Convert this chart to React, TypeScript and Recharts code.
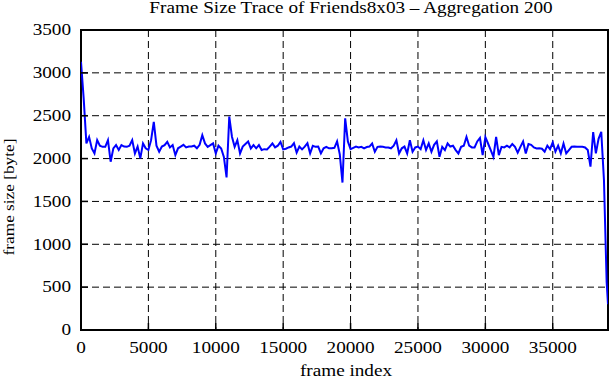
import React from "react";
import {
  LineChart,
  Line,
  XAxis,
  YAxis,
  CartesianGrid,
  ReferenceArea,
} from "recharts";

const frames: number[] = [
  0, 200, 400, 600, 800, 1000, 1200, 1400, 1600, 1800,
  2000, 2200, 2400, 2600, 2800, 3000, 3200, 3400, 3600, 3800,
  4000, 4200, 4400, 4600, 4800, 5000, 5200, 5400, 5600, 5800,
  6000, 6200, 6400, 6600, 6800, 7000, 7200, 7400, 7600, 7800,
  8000, 8200, 8400, 8600, 8800, 9000, 9200, 9400, 9600, 9800,
  10000, 10200, 10400, 10600, 10800, 11000, 11200, 11400, 11600, 11800,
  12000, 12200, 12400, 12600, 12800, 13000, 13200, 13400, 13600, 13800,
  14000, 14200, 14400, 14600, 14800, 15000, 15200, 15400, 15600, 15800,
  16000, 16200, 16400, 16600, 16800, 17000, 17200, 17400, 17600, 17800,
  18000, 18200, 18400, 18600, 18800, 19000, 19200, 19400, 19600, 19800,
  20000, 20200, 20400, 20600, 20800, 21000, 21200, 21400, 21600, 21800,
  22000, 22200, 22400, 22600, 22800, 23000, 23200, 23400, 23600, 23800,
  24000, 24200, 24400, 24600, 24800, 25000, 25200, 25400, 25600, 25800,
  26000, 26200, 26400, 26600, 26800, 27000, 27200, 27400, 27600, 27800,
  28000, 28200, 28400, 28600, 28800, 29000, 29200, 29400, 29600, 29800,
  30000, 30200, 30400, 30600, 30800, 31000, 31200, 31400, 31600, 31800,
  32000, 32200, 32400, 32600, 32800, 33000, 33200, 33400, 33600, 33800,
  34000, 34200, 34400, 34600, 34800, 35000, 35200, 35400, 35600, 35800,
  36000, 36200, 36400, 36600, 36800, 37000, 37200, 37400, 37600, 37800,
  38000, 38200, 38400, 38600, 38800, 39000, 39100,
];

const frameSizes: number[] = [
  3130, 2700, 2177, 2253, 2119, 2060, 2215, 2150, 2137, 2137,
  2215, 1963, 2119, 2157, 2100, 2157, 2140, 2137, 2150, 2215,
  2060, 2140, 2002, 2177, 2120, 2100, 2215, 2428, 2150, 2080,
  2140, 2157, 2196, 2130, 2157, 2040, 2120, 2140, 2160, 2130,
  2140, 2140, 2150, 2120, 2160, 2273, 2177, 2137, 2157, 2177,
  2060, 2150, 2118, 2020, 1780, 2490, 2255, 2137, 2215, 2060,
  2140, 2170, 2200, 2118, 2157, 2120, 2157, 2100, 2110, 2107,
  2140, 2176, 2130, 2150, 2195, 2107, 2115, 2130, 2140, 2180,
  2070, 2140, 2107, 2140, 2180, 2060, 2150, 2137, 2140, 2060,
  2120, 2137, 2120, 2120, 2125, 2200, 2050, 1720, 2470, 2200,
  2110, 2125, 2140, 2130, 2137, 2120, 2135, 2140, 2176, 2080,
  2137, 2140, 2137, 2130, 2130, 2120, 2150, 2213, 2060, 2120,
  2140, 2060, 2213, 2080, 2130, 2140, 2110, 2213, 2100, 2176,
  2080, 2160, 2200, 2021, 2137, 2099, 2176, 2140, 2150, 2099,
  2060, 2137, 2150, 2253, 2150, 2130, 2130, 2200, 2240, 2040,
  2250, 2176, 2099, 2021, 2253, 2040, 2137, 2130, 2150, 2130,
  2170, 2137, 2070, 2137, 2200, 2060, 2170, 2160, 2130, 2118,
  2120, 2115, 2080, 2150, 2110, 2190, 2080, 2150, 2060, 2176,
  2060, 2099, 2137, 2140, 2137, 2137, 2137, 2130, 2099, 1905,
  2310, 2060, 2230, 2311, 1750, 560, 300,
];

const xTicks: number[] = [0, 5000, 10000, 15000, 20000, 25000, 30000, 35000];
const yTicks: number[] = [0, 500, 1000, 1500, 2000, 2500, 3000, 3500];
const xDomain: [number, number] = [0, 39100];
const yDomain: [number, number] = [0, 3500];

const titleText = "Frame Size Trace of Friends8x03 \u2013 Aggregation 200";
const xLabelText = "frame index";
const yLabelText = "frame size [byte]";

const data = frames.map((f, i) => ({ frame: f, size: frameSizes[i] }));

const FONT = "'Liberation Serif', 'Times New Roman', serif";
const TICK_LEN = 7;

const LeftTick = (props: any) => {
  const { x, y, payload } = props;
  return (
    <g>
      <line x1={x + 10} x2={x + 10 + TICK_LEN} y1={y} y2={y} stroke="#000" strokeWidth={1.5} />
      <text
        transform={`translate(${x},${y}) scale(1.2,1)`}
        textAnchor="end"
        dy="0.33em"
        fontFamily={FONT}
        fontSize={16}
        fill="#000"
      >
        {payload.value}
      </text>
    </g>
  );
};

const RightTick = (props: any) => {
  const { x, y } = props;
  return <line x1={x - TICK_LEN} x2={x} y1={y} y2={y} stroke="#000" strokeWidth={1.5} />;
};

const BottomTick = (props: any) => {
  const { x, y, payload } = props;
  return (
    <g>
      <line x1={x} x2={x} y1={y - TICK_LEN} y2={y} stroke="#000" strokeWidth={1.5} />
      <text
        transform={`translate(${x},${y + 22.5}) scale(1.2,1)`}
        textAnchor="middle"
        fontFamily={FONT}
        fontSize={16}
        fill="#000"
      >
        {payload.value}
      </text>
    </g>
  );
};

const TopTick = (props: any) => {
  const { x, y } = props;
  return <line x1={x} x2={x} y1={y} y2={y + TICK_LEN} stroke="#000" strokeWidth={1.5} />;
};

export default function App() {
  return (
    <div style={{ position: "absolute", left: 0, top: 0, width: 611, height: 380, background: "#fff" }}>
      <LineChart
        width={611}
        height={380}
        data={data}
        margin={{ top: 30, right: 3, bottom: 0, left: 0 }}
      >
        <CartesianGrid
          stroke="#000"
          strokeWidth={1}
          strokeDasharray="7 4"
          horizontalValues={yTicks}
          verticalValues={xTicks}
        />
        <XAxis
          dataKey="frame"
          type="number"
          domain={xDomain}
          ticks={xTicks}
          allowDataOverflow
          height={50}
          tickSize={0}
          tickMargin={0}
          tickLine={false}
          axisLine={false}
          tick={<BottomTick />}
          interval={0}
        />
        <XAxis
          xAxisId="top"
          orientation="top"
          dataKey="frame"
          type="number"
          domain={xDomain}
          ticks={xTicks}
          allowDataOverflow
          height={0}
          tickSize={0}
          tickMargin={0}
          tickLine={false}
          axisLine={false}
          tick={<TopTick />}
          interval={0}
        />
        <YAxis
          type="number"
          domain={yDomain}
          ticks={yTicks}
          allowDataOverflow
          width={81}
          tickSize={0}
          tickMargin={10}
          tickLine={false}
          axisLine={false}
          tick={<LeftTick />}
          interval={0}
        />
        <YAxis
          yAxisId="right"
          orientation="right"
          type="number"
          domain={yDomain}
          ticks={yTicks}
          allowDataOverflow
          width={0}
          tickSize={0}
          tickMargin={0}
          tickLine={false}
          axisLine={false}
          tick={<RightTick />}
          interval={0}
        />
        <ReferenceArea
          x1={xDomain[0]}
          x2={xDomain[1]}
          y1={yDomain[0]}
          y2={yDomain[1]}
          fill="none"
          fillOpacity={0}
          stroke="#000"
          strokeWidth={2}
          ifOverflow="visible"
        />
        <Line
          type="linear"
          dataKey="size"
          stroke="#0000ff"
          strokeWidth={2}
          dot={false}
          activeDot={false}
          isAnimationActive={false}
        />
      </LineChart>
      <svg
        width={611}
        height={380}
        style={{ position: "absolute", left: 0, top: 0, pointerEvents: "none" }}
      >
        <text
          transform="translate(351,13) scale(1.2,1)"
          textAnchor="middle"
          fontFamily={FONT}
          fontSize={16}
          fill="#000"
        >
          {titleText}
        </text>
        <text
          transform="translate(346,376) scale(1.2,1)"
          textAnchor="middle"
          fontFamily={FONT}
          fontSize={16}
          fill="#000"
        >
          {xLabelText}
        </text>
        <text
          transform="translate(14,197) rotate(-90) scale(1.15,1)"
          textAnchor="middle"
          fontFamily={FONT}
          fontSize={15}
          fill="#000"
        >
          {yLabelText}
        </text>
      </svg>
    </div>
  );
}
